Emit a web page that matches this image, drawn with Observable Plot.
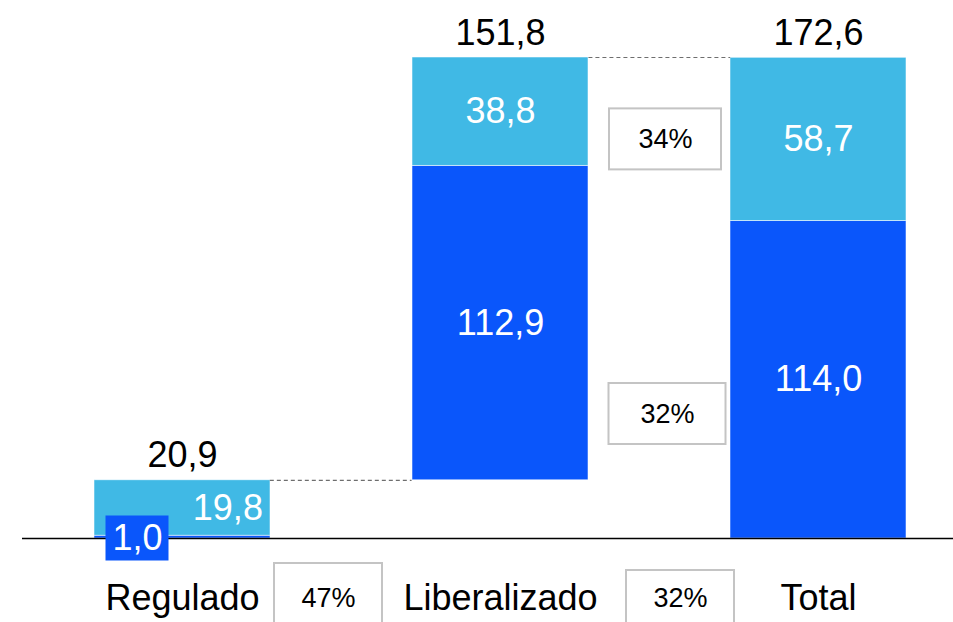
<!DOCTYPE html>
<html><head><meta charset="utf-8">
<script src="https://cdn.jsdelivr.net/npm/d3@7"></script>
<script src="https://cdn.jsdelivr.net/npm/@observablehq/plot@0.6"></script>
<style>html,body{margin:0;padding:0;background:#fff}</style>
</head><body><div id="chart"></div>
<script>
// ---- data ----
const categories = ["Regulado", "Liberalizado", "Total"];
const darkValues = [1.0, 112.9, 114.0];
const lightValues = [19.8, 38.8, 58.7];
const totalValues = [20.9, 151.8, 172.6];
const baseValues = [0, 20.9, 0]; // waterfall starting level
const shareLabels = ["47%", "32%", "34%", "32%"];

// ---- layout ----
const W = 953, H = 622, mL = 93, mR = 46, mT = 57, mB = 84;
const padIn = 0.445;
const frameW = W - mL - mR;
const step = frameW / (categories.length - padIn);
const bw = step * (1 - padIn);
const DARK = "#0A56FB", LIGHT = "#40B9E5";
const FONT = "'Liberation Sans', Arial, Helvetica, sans-serif";
const BIG = 36;
const fmt = d => d.toFixed(1).replace(".", ",");

const rows = categories.map((c, i) => ({cat: c, base: baseValues[i], dark: darkValues[i], light: lightValues[i], total: totalValues[i]}));
const darkSeg = rows.map(r => ({cat: r.cat, y1: r.base, y2: r.base + r.dark, v: r.dark}));
const lightSeg = rows.map(r => ({cat: r.cat, y1: r.base + r.dark, y2: r.base + r.total, v: r.light}));
const yMax = d3.max(rows, r => r.base + r.total);

// annotation boxes (function mark using the plot's scales)
const boxSpecs = [
  {text: shareLabels[0], cat: "Liberalizado", dx: -172, y: 0, dy: 60, w: 108, h: 70},
  {text: shareLabels[1], cat: "Total", dx: -138, y: 0, dy: 60, w: 108, h: 56},
  {text: shareLabels[2], cat: "Total", dx: -153, y: (rows[2].dark + rows[2].total) / 2, dy: 0, w: 112, h: 61},
  {text: shareLabels[3], cat: "Total", dx: -151, y: 44.7, dy: 0, w: 117, h: 61}
];
const smallBox = [{text: fmt(darkValues[0]), cat: "Regulado", dx: -45, y: 0, dy: 0, w: 63, h: 45}];

function boxMark(specs, fill, stroke, sw) {
  return (index, scales) => {
    const g = d3.create("svg:g");
    const half = scales.x.bandwidth ? scales.x.bandwidth() / 2 : bw / 2;
    for (const b of specs) {
      const cx = scales.x(b.cat) + half + b.dx;
      const cy = scales.y(b.y) + b.dy;
      g.append("rect")
        .attr("x", cx - b.w / 2).attr("y", cy - b.h / 2)
        .attr("width", b.w).attr("height", b.h)
        .attr("fill", fill).attr("stroke", stroke).attr("stroke-width", sw);
    }
    return g.node();
  };
}

const chart = Plot.plot({
  width: W, height: H,
  marginLeft: mL, marginRight: mR, marginTop: mT, marginBottom: mB,
  style: {fontFamily: FONT, background: "white", color: "black", overflow: "visible"},
  x: {type: "band", domain: categories, paddingInner: padIn, paddingOuter: 0, label: null},
  y: {domain: [0, yMax], axis: null},
  marks: [
    Plot.barY(darkSeg, {x: "cat", y1: "y1", y2: "y2", fill: DARK, stroke: "white", strokeWidth: 0.75, strokeOpacity: 0.7}),
    Plot.barY(lightSeg, {x: "cat", y1: "y1", y2: "y2", fill: LIGHT, stroke: "white", strokeWidth: 0.75, strokeOpacity: 0.7}),
    // connectors
    Plot.ruleY([rows[0].base + rows[0].total], {stroke: "#6e6e6e", strokeWidth: 1.2, strokeDasharray: "4,3", insetLeft: bw, insetRight: frameW - step}),
    Plot.ruleY([rows[1].base + rows[1].total], {stroke: "#6e6e6e", strokeWidth: 1.2, strokeDasharray: "4,3", insetLeft: step + bw, insetRight: bw}),
    // baseline
    Plot.ruleY([0], {stroke: "black", strokeWidth: 1.5, insetLeft: -(mL - 22), insetRight: -mR}),
    // totals
    Plot.text(rows, {x: "cat", y: r => r.base + r.total, text: r => fmt(r.total), lineAnchor: "bottom", dy: -13, fontSize: BIG, fill: "black"}),
    // inside labels
    Plot.text(darkSeg.slice(1), {x: "cat", y: d => (d.y1 + d.y2) / 2, text: d => fmt(d.v), fontSize: BIG, fill: "white"}),
    Plot.text(lightSeg.slice(1), {x: "cat", y: d => (d.y1 + d.y2) / 2, text: d => fmt(d.v), fontSize: BIG, fill: "white"}),
    Plot.text(lightSeg.slice(0, 1), {x: "cat", y: d => (d.y1 + d.y2) / 2, text: d => fmt(d.v), fontSize: BIG, fill: "white", textAnchor: "end", dx: bw / 2 - 8}),
    // small dark label box
    boxMark(smallBox, DARK, "none", 0),
    Plot.text(smallBox, {x: "cat", y: "y", text: "text", fontSize: BIG, fill: "white", dx: smallBox[0].dx}),
    // share boxes
    boxMark(boxSpecs, "white", "#c4c4c4", 2),
    ...boxSpecs.map(b => Plot.text([b], {x: "cat", y: "y", text: "text", dx: b.dx, dy: b.dy, fontSize: 27, fill: "black"})),
    // category axis
    Plot.axisX({tickSize: 0, tickPadding: 46, fontSize: BIG, label: null, fill: "black"})
  ]
});
document.getElementById("chart").append(chart);
</script>
</body></html>
